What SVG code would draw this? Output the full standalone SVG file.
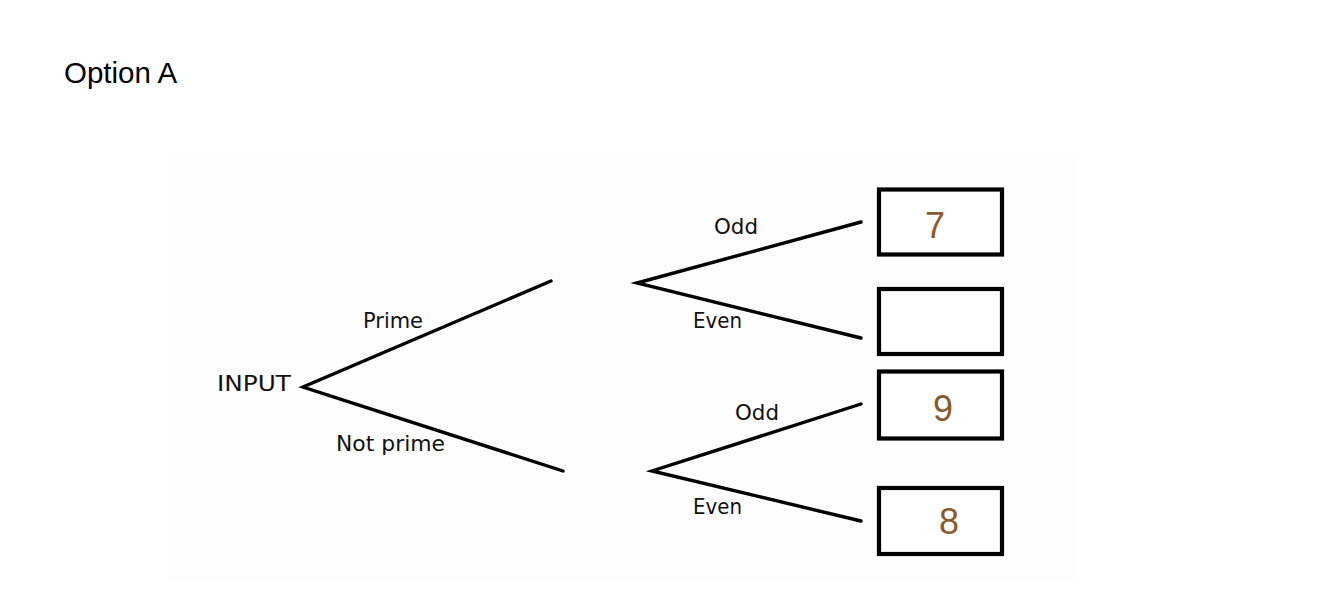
<svg xmlns="http://www.w3.org/2000/svg" width="1323" height="603" viewBox="0 0 1323 603">
<style>
.lbl{font-family:"DejaVu Sans","Noto Sans",sans-serif;font-size:21px;fill:#111}
.num{font-family:"Liberation Sans",Arial,sans-serif;font-size:36px;fill:#8b5a2b;text-anchor:middle}
.box{fill:#fff;stroke:#000;stroke-width:4.2}
.edge{stroke:#000;stroke-width:3.4;stroke-linecap:round;fill:none}
</style>
<rect width="1323" height="603" fill="#fff"/>
<text x="64" y="83" font-family="Liberation Sans, Arial, sans-serif" font-size="29.5" fill="#000">Option A</text>
<rect x="168" y="159" width="907" height="421" fill="#fdfdfd"/>
<g id="connectors">
<path class="edge" d="M551 281 L303 387 L563 471"/>
<path class="edge" d="M861 222 L637 283 L861 338"/>
<path class="edge" d="M861 404 L652 471 L861 521"/>
</g>
<g id="input"><text class="lbl" x="217" y="391" textLength="74" lengthAdjust="spacingAndGlyphs">INPUT</text></g>
<g id="label-prime"><text class="lbl" x="363" y="328" textLength="60" lengthAdjust="spacingAndGlyphs">Prime</text></g>
<g id="label-notprime"><text class="lbl" x="336" y="451" textLength="109" lengthAdjust="spacingAndGlyphs">Not prime</text></g>
<g id="label-odd1"><text class="lbl" x="714" y="234" textLength="44" lengthAdjust="spacingAndGlyphs">Odd</text></g>
<g id="label-even1"><text class="lbl" x="693" y="328" textLength="49" lengthAdjust="spacingAndGlyphs">Even</text></g>
<g id="label-odd2"><text class="lbl" x="735" y="420" textLength="44" lengthAdjust="spacingAndGlyphs">Odd</text></g>
<g id="label-even2"><text class="lbl" x="693" y="514" textLength="49" lengthAdjust="spacingAndGlyphs">Even</text></g>
<g id="box1"><rect class="box" x="879" y="189.5" width="123" height="65"/><text class="num" x="935" y="238">7</text></g>
<g id="box2"><rect class="box" x="879" y="289" width="123" height="65"/></g>
<g id="box3"><rect class="box" x="879" y="371.5" width="123" height="67"/><text class="num" x="943" y="421">9</text></g>
<g id="box4"><rect class="box" x="879" y="488" width="123" height="66"/><text class="num" x="949" y="534">8</text></g>
</svg>
